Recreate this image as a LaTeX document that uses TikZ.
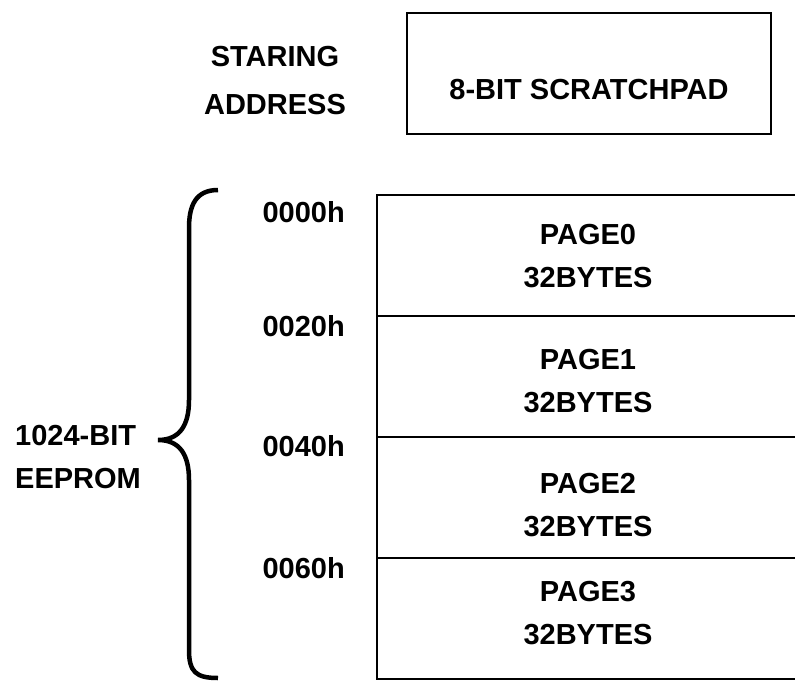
\documentclass[tikz,border=0pt]{standalone}
\usepackage{fontspec}
\setmainfont{Liberation Sans}
\usetikzlibrary{positioning}

\tikzset{
  lbl/.style={inner sep=0pt, font=\fontsize{29}{43}\selectfont\bfseries},
  membox/.style={draw, line width=2.2pt, minimum width=443pt, minimum height=121pt, inner sep=0pt},
}

\begin{document}
\begin{tikzpicture}[x=1pt,y=-1pt]
  % Frame
  \useasboundingbox (0,0) rectangle (795,688);
  \clip (0,0) rectangle (795,688);
  % Scratchpad
  \node[draw, line width=2.2pt, minimum width=364pt, minimum height=121pt, inner sep=0pt] (scratch) at (589,73.5) {};
  \node[lbl] (scratchtxt) at (589,90) {8-BIT SCRATCHPAD};
  \node[lbl, align=center, font=\fontsize{29}{48}\selectfont\bfseries] (start) at (275,81) {STARING\\ADDRESS};
  % EEPROM pages
  \node[membox] (page0) at (598.5,255.5) {};
  \node[membox] (page1) at (598.5,376.5) {};
  \node[membox] (page2) at (598.5,497.5) {};
  \node[membox] (page3) at (598.5,618.5) {};
  \node[lbl, align=center] (txt0) at (588,256) {PAGE0\\32BYTES};
  \node[lbl, align=center] (txt1) at (588,381.5) {PAGE1\\32BYTES};
  \node[lbl, align=center] (txt2) at (588,505) {PAGE2\\32BYTES};
  \node[lbl, align=center] (txt3) at (588,613) {PAGE3\\32BYTES};
  % Addresses
  \node[lbl, anchor=east] (addr0) at (345,212) {0000h};
  \node[lbl, anchor=east] (addr1) at (345,326) {0020h};
  \node[lbl, anchor=east] (addr2) at (345,446) {0040h};
  \node[lbl, anchor=east] (addr3) at (345,568) {0060h};
  % Brace
  \coordinate (btop) at (218,190);
  \coordinate (btip) at (158,440);
  \coordinate (bbot) at (218,678);
  \draw[line width=4.5pt] (btop) .. controls (196,190) and (189,205) .. (189,228)
    -- (189,400) .. controls (189,425) and (180,440) .. (btip)
    .. controls (180,440) and (189,455) .. (189,480)
    -- (189,650) .. controls (189,672) and (196,678) .. (bbot);
  \node[lbl, align=left, anchor=west] (eeprom) at (15,457) {1024-BIT\\EEPROM};
\end{tikzpicture}
\end{document}
